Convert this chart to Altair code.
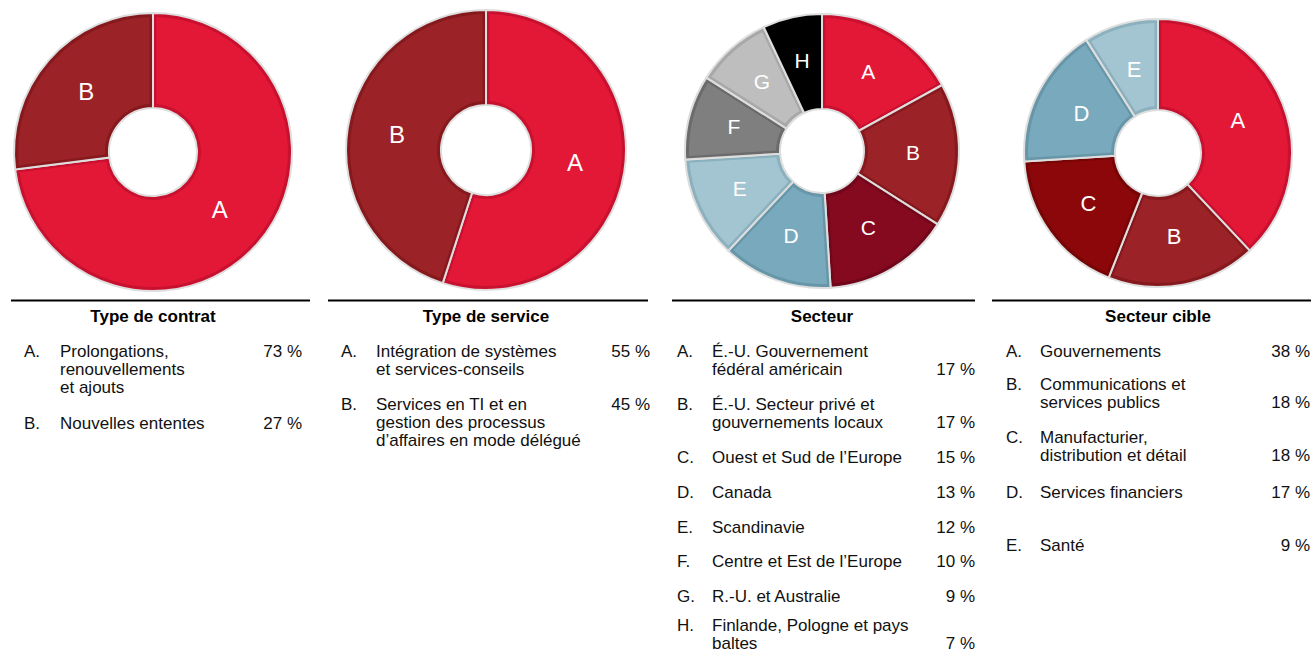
import altair as alt
import pandas as pd

W, H = 1314, 654
FONT = "Liberation Sans"

# ---------------- data ----------------
titles = ["Type de contrat", "Type de service", "Secteur", "Secteur cible"]

contrat_letters = ["A", "B"]
contrat_labels = ["Prolongations,\nrenouvellements\net ajouts", "Nouvelles ententes"]
contrat_values = [73, 27]

service_letters = ["A", "B"]
service_labels = ["Intégration de systèmes\n\u00a0et services-conseils",
                  "Services en TI et en\ngestion des processus\nd’affaires en mode délégué"]
service_values = [55, 45]

secteur_letters = ["A", "B", "C", "D", "E", "F", "G", "H"]
secteur_labels = ["É.-U. Gouvernement\nfédéral américain",
                  "É.-U. Secteur privé et\ngouvernements locaux",
                  "Ouest et Sud de l’Europe", "Canada", "Scandinavie",
                  "Centre et Est de l’Europe", "R.-U. et Australie",
                  "Finlande, Pologne et pays\nbaltes"]
secteur_values = [17, 17, 15, 13, 12, 10, 9, 7]

cible_letters = ["A", "B", "C", "D", "E"]
cible_labels = ["Gouvernements", "Communications et\nservices publics",
                "Manufacturier,\ndistribution et détail", "Services financiers", "Santé"]
cible_values = [38, 18, 18, 17, 9]

# ---------------- styles ----------------
contrat_fill = ["#E31837", "#9B2226"]
contrat_border = ["#C8102F", "#85191D"]
service_fill = ["#E31837", "#9B2226"]
service_border = ["#C8102F", "#85191D"]
secteur_fill = ["#E31837", "#9B2226", "#850A20", "#79A9BC", "#A3C5D1", "#7F7F7F", "#BEBEBE", "#000000"]
secteur_border = ["#C8102F", "#85191D", "#70071A", "#6796A9", "#8CB1BE", "#6B6B6B", "#A8A8A8", "#000000"]
cible_fill = ["#E31837", "#9B2226", "#8C0709", "#79A9BC", "#A3C5D1"]
cible_border = ["#C8102F", "#85191D", "#760506", "#6796A9", "#8CB1BE"]

panels = [
    dict(letters=contrat_letters, labels=contrat_labels, values=contrat_values,
         fills=contrat_fill, borders=contrat_border,
         cx=153, cy=152, R=139, r=44, lr=89, fs=24,
         xl=24, xt=60, xv=302, rule=(11, 310), rows=[357, 429], last=False),
    dict(letters=service_letters, labels=service_labels, values=service_values,
         fills=service_fill, borders=service_border,
         cx=486, cy=150, R=140, r=45, lr=90, fs=24,
         xl=341, xt=376, xv=650, rule=(328, 648), rows=[357, 410], last=False),
    dict(letters=secteur_letters, labels=secteur_labels, values=secteur_values,
         fills=secteur_fill, borders=secteur_border,
         cx=822, cy=151, R=137, r=42, lr=91, fs=21,
         xl=677, xt=712, xv=975, rule=(672, 975),
         rows=[357, 410, 463, 498, 533, 567, 602, 631], last=True),
    dict(letters=cible_letters, labels=cible_labels, values=cible_values,
         fills=cible_fill, borders=cible_border,
         cx=1158, cy=153, R=134, r=43, lr=86, fs=22,
         xl=1006, xt=1040, xv=1310, rule=(992, 1311),
         rows=[357, 390, 443, 498, 551], last=True),
]

LH = 18
XS = alt.Scale(domain=[0, W], range=[0, W], nice=False, zero=False)
YS = alt.Scale(domain=[0, H], range=[0, H], nice=False, zero=False)


def px(field):
    return alt.X(field, scale=XS, axis=None)


def py(field):
    return alt.Y(field, scale=YS, axis=None)


layers = []
rule_rows, title_rows, letter_rows, text_rows, value_rows = [], [], [], [], []

for p, title in zip(panels, titles):
    df = pd.DataFrame({"k": p["letters"], "v": p["values"],
                       "i": list(range(len(p["values"]))),
                       "fill": p["fills"], "border": p["borders"]})
    base = alt.Chart(df)
    enc = dict(theta=alt.Theta("v:Q", stack=True),
               order=alt.Order("i:Q"),
               x=alt.value(p["cx"]), y=alt.value(p["cy"]))
    outer = base.mark_arc(radius=p["R"], radius2=p["r"], stroke="#dedede",
                          strokeWidth=2).encode(
        color=alt.Color("border:N", scale=None), **enc)
    pad_r = (p["R"] ** 2 + p["r"] ** 2) ** 0.5
    inner = base.mark_arc(radius=p["R"] - 4, radius2=p["r"] + 4,
                          padAngle=7.0 / pad_r, strokeWidth=0).encode(
        color=alt.Color("fill:N", scale=None), **enc)
    lab = base.mark_text(radius=p["lr"], fontSize=p["fs"], color="white",
                         font=FONT, baseline="middle", align="center").encode(
        text="k:N", **enc)
    layers += [outer, inner, lab]

    rule_rows.append({"x": p["rule"][0], "x2": p["rule"][1], "y": 300.5})
    title_rows.append({"x": p["cx"], "y": 322, "t": title})
    for letter, label, val, yb in zip(p["letters"], p["labels"], p["values"], p["rows"]):
        n = label.count("\n")
        letter_rows.append({"x": p["xl"], "y": yb, "t": letter + "."})
        text_rows.append({"x": p["xt"], "y": yb, "t": label})
        value_rows.append({"x": p["xv"], "y": yb + (n * LH if p["last"] else 0),
                           "t": f"{val} %"})

rules = alt.Chart(pd.DataFrame(rule_rows)).mark_rule(
    color="black", strokeWidth=2).encode(x=px("x:Q"), x2="x2:Q", y=py("y:Q"))
title_txt = alt.Chart(pd.DataFrame(title_rows)).mark_text(
    font=FONT, fontSize=17, fontWeight="bold", color="black",
    align="center", baseline="alphabetic").encode(x=px("x:Q"), y=py("y:Q"), text="t:N")
letter_txt = alt.Chart(pd.DataFrame(letter_rows)).mark_text(
    font=FONT, fontSize=17, color="#111111", align="left",
    baseline="alphabetic").encode(x=px("x:Q"), y=py("y:Q"), text="t:N")
label_txt = alt.Chart(pd.DataFrame(text_rows)).mark_text(
    font=FONT, fontSize=17, color="#111111", align="left", baseline="alphabetic",
    lineBreak="\n", lineHeight=LH).encode(x=px("x:Q"), y=py("y:Q"), text="t:N")
value_txt = alt.Chart(pd.DataFrame(value_rows)).mark_text(
    font=FONT, fontSize=17, color="#111111", align="right",
    baseline="alphabetic").encode(x=px("x:Q"), y=py("y:Q"), text="t:N")

chart = alt.layer(*layers, rules, title_txt, letter_txt, label_txt, value_txt).properties(
    width=W, height=H, padding=0,
    autosize=alt.AutoSizeParams(type="none"),
    background="white",
).configure_view(stroke=None)

chart.save("out.html", embed_options={"renderer": "svg", "actions": False})
